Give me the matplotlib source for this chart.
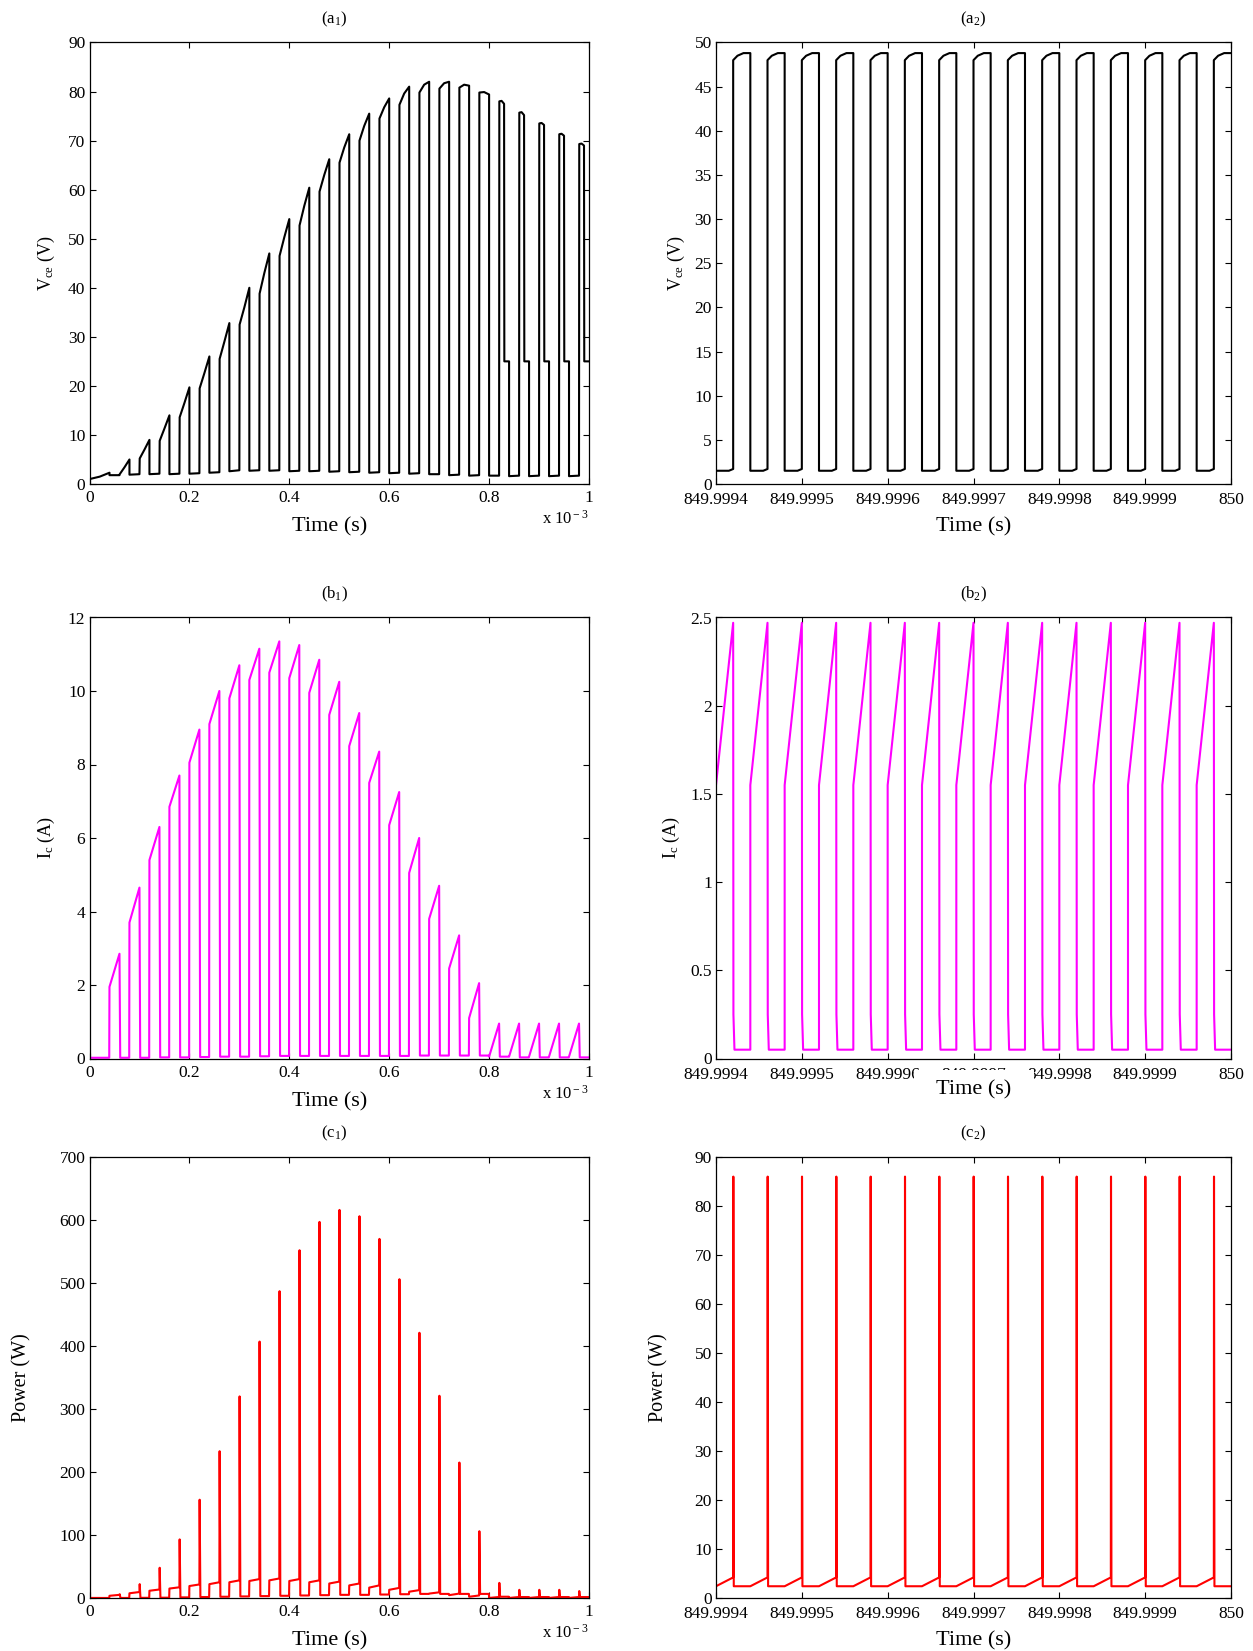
import numpy as np
import matplotlib
matplotlib.use('Agg')
import matplotlib.pyplot as plt
from matplotlib.patches import Rectangle
from matplotlib.ticker import FuncFormatter

plt.rcParams['font.family'] = 'serif'
plt.rcParams['font.serif'] = ['Liberation Serif', 'DejaVu Serif']
plt.rcParams['mathtext.fontset'] = 'custom'
plt.rcParams['mathtext.rm'] = 'Liberation Serif'
plt.rcParams['mathtext.it'] = 'Liberation Serif:italic'
plt.rcParams['axes.linewidth'] = 0.9

# ---------------- start-up window: 0 .. 1 (x 1e-3 s), 25 switching periods ----------------
T_SW = 0.04          # switching period, x 1e-3 s
N_PER = 25
TAIL_FROM = 20       # from this period on the current is discontinuous

vce_lo_a = [1.0, 1.8, 1.9, 2.0, 2.0, 2.1, 2.3, 2.6, 2.7, 2.7, 2.6, 2.6, 2.5, 2.4, 2.3, 2.2, 2.1, 2.0, 1.8, 1.7, 1.7, 1.6, 1.6, 1.6, 1.6]
vce_lo_b = [1.5, 1.8, 2.0, 2.1, 2.1, 2.2, 2.4, 2.8, 2.8, 2.8, 2.7, 2.7, 2.6, 2.5, 2.4, 2.3, 2.2, 2.0, 1.9, 1.8, 1.7, 1.7, 1.7, 1.7, 1.7]
vce_hi_a = [1.5, 2.0, 5.2, 8.8, 13.6, 19.5, 25.5, 32.5, 38.8, 46.5, 52.7, 59.6, 65.5, 70.0, 74.5, 77.3, 79.8, 80.6, 80.8, 79.8, 78.0, 75.7, 73.5, 71.3, 69.3]
vce_hi_m = [1.9, 3.4, 7.0, 11.3, 16.5, 22.6, 29.0, 36.0, 43.0, 50.3, 56.7, 63.0, 68.6, 73.0, 76.8, 79.6, 81.4, 81.7, 81.4, 79.9, 78.1, 75.8, 73.6, 71.4, 69.4]
vce_hi_b = [2.3, 5.0, 9.0, 14.0, 19.7, 26.0, 32.8, 40.0, 47.0, 54.0, 60.4, 66.2, 71.3, 75.5, 78.6, 81.0, 82.0, 82.0, 81.2, 79.4, 77.5, 75.2, 73.2, 71.0, 69.0]
vce_tail = 25.0

ic_on_a = [0.02, 1.95, 3.7, 5.4, 6.85, 8.05, 9.1, 9.8, 10.3, 10.5, 10.35, 9.95, 9.35, 8.5, 7.5, 6.35, 5.05, 3.8, 2.45, 1.1, 0.05, 0.05, 0.05, 0.05, 0.05]
ic_on_b = [0.02, 2.85, 4.65, 6.3, 7.7, 8.95, 10.0, 10.7, 11.15, 11.35, 11.25, 10.85, 10.25, 9.4, 8.35, 7.25, 6.0, 4.7, 3.35, 2.05, 0.95, 0.95, 0.95, 0.95, 0.95]
ic_off = [0.02, 0.02, 0.02, 0.03, 0.03, 0.04, 0.05, 0.05, 0.06, 0.07, 0.07, 0.07, 0.07, 0.07, 0.07, 0.07, 0.08, 0.08, 0.08, 0.08, 0.05, 0.03, 0.03, 0.03, 0.03]

p_on_a = [0.1, 3.5, 7.5, 11.5, 15.0, 19.0, 22.0, 25.0, 27.0, 28.0, 27.0, 25.0, 23.0, 20.0, 16.5, 13.0, 10.0, 7.0, 4.5, 2.0, 0.1, 0.1, 0.1, 0.1, 0.1]
p_on_b = [0.1, 5.0, 9.5, 13.5, 17.0, 21.5, 25.0, 28.0, 30.0, 31.0, 30.0, 28.0, 26.0, 23.0, 20.0, 16.0, 12.5, 9.0, 7.0, 4.0, 1.6, 1.6, 1.6, 1.6, 1.6]
p_spike = [0.1, 6, 22, 48, 93, 156, 233, 320, 407, 487, 552, 597, 616, 606, 570, 506, 421, 321, 215, 106, 24, 13, 13, 13, 11]
p_off = [0.05, 0.1, 0.3, 0.5, 1.0, 1.5, 2.0, 2.5, 3.0, 3.5, 4.0, 4.5, 5.0, 5.0, 5.5, 6.0, 6.5, 6.5, 6.5, 6.5, 2.0, 1.5, 1.5, 1.5, 1.5]

# ---------------- steady-state window: 849.9994 .. 850 s, 15 periods ----------------
T2 = 4e-5
N2 = 15
T2_START = 849.9994
vce2_lo = [1.5, 1.5, 1.7]
vce2_lo_frac = [0.0, 0.75, 1.0]
vce2_hi = [48.0, 48.5, 48.8, 48.8]
vce2_hi_frac = [0.0, 0.25, 0.6, 1.0]
ic2_on = [1.55, 2.47]
ic2_fall = 0.25
ic2_off = 0.05
p2_on = [2.4, 4.2]
p2_spike = 86.0
p2_off = 2.4

xt2_vals = [849.9994, 849.9995, 849.9996, 849.9997, 849.9998, 849.9999, 850.0]


# ---------------- waveform assembly ----------------
def left_vce():
    e = 0.0005
    t, v = [], []
    for k in range(N_PER):
        t0 = k * T_SW
        h = T_SW / 2
        t += [t0, t0 + h]
        v += [vce_lo_a[k], vce_lo_b[k]]
        if k >= TAIL_FROM:
            t += [t0 + h + e, t0 + 1.25 * h, t0 + 1.5 * h, t0 + 1.5 * h + e, t0 + T_SW]
            v += [vce_hi_a[k], vce_hi_m[k], vce_hi_b[k], vce_tail, vce_tail]
        else:
            t += [t0 + h + e, t0 + 1.5 * h, t0 + T_SW]
            v += [vce_hi_a[k], vce_hi_m[k], vce_hi_b[k]]
    return np.array(t), np.array(v)


def left_ic():
    e = 0.0005
    t, v = [], []
    for k in range(N_PER):
        t0 = k * T_SW
        h = T_SW / 2
        t += [t0, t0 + h, t0 + h + 3 * e, t0 + T_SW - e]
        v += [ic_on_a[k], ic_on_b[k], ic_off[k], ic_off[k]]
    return np.array(t), np.array(v)


def left_p():
    e = 0.0005
    t, v = [], []
    for k in range(N_PER):
        t0 = k * T_SW
        h = T_SW / 2
        t += [t0, t0 + h, t0 + h + e, t0 + h + 4 * e, t0 + T_SW - e]
        v += [p_on_a[k], p_on_b[k], p_spike[k], p_off[k], p_off[k]]
    return np.array(t), np.array(v)


def right_vce():
    t, v = [], []
    h = T2 / 2
    for k in range(N2):
        t0 = k * T2
        t += [t0 + f * h for f in vce2_lo_frac]
        v += vce2_lo
        t += [t0 + h + 1e-8 + f * (h - 2e-8) for f in vce2_hi_frac]
        v += vce2_hi
    return T2_START + np.array(t), np.array(v)


def right_ic():
    t, v = [], []
    h = T2 / 2
    for k in range(N2):
        t0 = k * T2
        t += [t0, t0 + h, t0 + h + 3e-7, t0 + h + 1.5e-6, t0 + T2 - 1e-8]
        v += [ic2_on[0], ic2_on[1], ic2_fall, ic2_off, ic2_off]
    return T2_START + np.array(t), np.array(v)


def right_p():
    t, v = [], []
    h = T2 / 2
    for k in range(N2):
        t0 = k * T2
        t += [t0, t0 + h, t0 + h + 2e-7, t0 + h + 7e-7, t0 + T2 - 1e-8]
        v += [p2_on[0], p2_on[1], p2_spike, p2_off, p2_off]
    return T2_START + np.array(t), np.array(v)


# ---------------- figure ----------------
W, H = 1253, 1651
fig = plt.figure(figsize=(W / 100, H / 100), dpi=100)

col_x = [(89.5, 589.0), (716.0, 1231.0)]
row_y = [(42.5, 484.0), (617.5, 1058.5), (1157.0, 1598.0)]


def make_ax(r, c):
    x0, x1 = col_x[c]
    y0, y1 = row_y[r]
    return fig.add_axes([x0 / W, 1 - y1 / H, (x1 - x0) / W, (y1 - y0) / H])


def style(ax, c):
    ax.tick_params(direction='in', top=True, right=True, length=4, width=0.8,
                   labelsize=12.5)
    ax.tick_params(axis='x', pad=4.5 if c == 0 else 6)
    ax.tick_params(axis='y', pad=3)


fmt_g = FuncFormatter(lambda v, p: '%g' % v)
fmt_t2 = FuncFormatter(lambda v, p: ('%.4f' % v).rstrip('0').rstrip('.'))

panels = [
    (0, 0, left_vce, 'black', (0, 90), np.arange(0, 91, 10), r'V$_{\rm ce}$ (V)', 13, r'(a$_1$)'),
    (1, 0, left_ic, '#ff00ff', (0, 12), np.arange(0, 13, 2), r'I$_{\rm c}$ (A)', 13, r'(b$_1$)'),
    (2, 0, left_p, '#ff0000', (0, 700), np.arange(0, 701, 100), 'Power (W)', 14.5, r'(c$_1$)'),
    (0, 1, right_vce, 'black', (0, 50), np.arange(0, 51, 5), r'V$_{\rm ce}$ (V)', 13, r'(a$_2$)'),
    (1, 1, right_ic, '#ff00ff', (0, 2.5), np.arange(0, 2.51, 0.5), r'I$_{\rm c}$ (A)', 13, r'(b$_2$)'),
    (2, 1, right_p, '#ff0000', (0, 90), np.arange(0, 91, 10), 'Power (W)', 14.5, r'(c$_2$)'),
]

ylab_off = {(0, 0): 43, (1, 0): 43, (2, 0): 68, (0, 1): 40, (1, 1): 45, (2, 1): 57}

for r, c, fn, color, ylim, yt, ylab, ylsize, title in panels:
    ax = make_ax(r, c)
    t, v = fn()
    ax.plot(t, v, color=color, lw=1.5)
    ax.set_ylim(*ylim)
    ax.set_yticks(yt)
    ax.yaxis.set_major_formatter(fmt_g)
    style(ax, c)
    w_px = col_x[c][1] - col_x[c][0]
    h_px = row_y[r][1] - row_y[r][0]
    if c == 0:
        ax.set_xlim(0, 1)
        ax.set_xticks(np.arange(0, 1.01, 0.2))
        ax.xaxis.set_major_formatter(fmt_g)
        ax.text(1.0, -35 / h_px, r'x 10$^{\rm -3}$', transform=ax.transAxes,
                ha='right', va='center', fontsize=12)
        xl_x = 0.48
    else:
        ax.set_xlim(T2_START, 850.0)
        ax.set_xticks(xt2_vals)
        ax.xaxis.set_major_formatter(fmt_t2)
        xl_x = 0.5
    ax.set_ylabel(ylab, fontsize=ylsize, va='center')
    ax.yaxis.set_label_coords(-ylab_off[(r, c)] / w_px, 0.5)
    if (r, c) == (1, 1):
        # the x label box hides the lower part of the middle tick labels
        ax.add_patch(Rectangle((0.385, -0.13), 0.232, 0.13 - 11 / h_px,
                               transform=ax.transAxes, fc='white', ec='none',
                               clip_on=False, zorder=5))
        ax.text(0.5, -31.5 / h_px, 'Time (s)', transform=ax.transAxes,
                ha='center', va='center', fontsize=16, zorder=6)
    else:
        ax.set_xlabel('Time (s)', fontsize=16, va='center')
        ax.xaxis.set_label_coords(xl_x, -43 / h_px)
    ax.text(0.49 if c == 0 else 0.5, 1 + 23.5 / h_px, title, transform=ax.transAxes,
            ha='center', va='center', fontsize=12)

fig.savefig('out.png', dpi=100, facecolor='white')
